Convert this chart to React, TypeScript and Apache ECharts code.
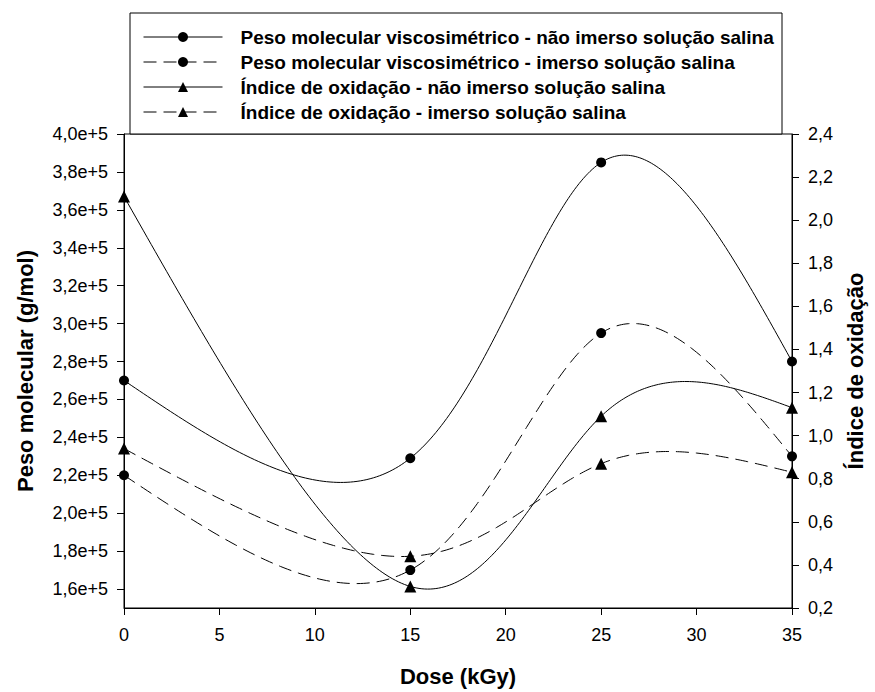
import React, { useEffect, useRef } from 'react';
import * as echarts from 'echarts';

const doses = [0, 15, 25, 35];
const pesoNaoImerso = [270000, 229000, 385000, 280000];
const pesoImerso = [220000, 170000, 295000, 230000];
const indiceNaoImerso = [2.11, 0.3, 1.09, 1.13];
const indiceImerso = [0.94, 0.44, 0.87, 0.83];
const leftTicks = [160000, 180000, 200000, 220000, 240000, 260000, 280000, 300000, 320000, 340000, 360000, 380000, 400000];
const seriesNames = [
  'Peso molecular viscosimétrico - não imerso solução salina',
  'Peso molecular viscosimétrico - imerso solução salina',
  'Índice de oxidação - não imerso solução salina',
  'Índice de oxidação - imerso solução salina',
];

const FONT = '"Liberation Sans", Arial, Helvetica, sans-serif';
const DASH = [13, 7];

const pair = (xs: number[], ys: number[]) => xs.map((x, i) => [x, ys[i]]);

// natural cubic spline second derivatives
function secondDerivs(t: number[], v: number[]): number[] {
  const n = t.length;
  const M = new Array(n).fill(0);
  if (n < 3) return M;
  const m = n - 2;
  const a: number[] = [], b: number[] = [], c: number[] = [], d: number[] = [];
  for (let i = 1; i <= m; i++) {
    const h0 = t[i] - t[i - 1];
    const h1 = t[i + 1] - t[i];
    a.push(h0);
    b.push(2 * (h0 + h1));
    c.push(h1);
    d.push(6 * ((v[i + 1] - v[i]) / h1 - (v[i] - v[i - 1]) / h0));
  }
  for (let i = 1; i < m; i++) {
    const w = a[i] / b[i - 1];
    b[i] -= w * c[i - 1];
    d[i] -= w * d[i - 1];
  }
  const sol = new Array(m).fill(0);
  sol[m - 1] = d[m - 1] / b[m - 1];
  for (let i = m - 2; i >= 0; i--) sol[i] = (d[i] - c[i] * sol[i + 1]) / b[i];
  for (let i = 0; i < m; i++) M[i + 1] = sol[i];
  return M;
}

// parametric natural cubic spline (uniform parameter) through pixel points
function splineCurve(pts: number[][], steps = 80): number[][] {
  const n = pts.length;
  const t = pts.map((_, i) => i);
  const xs = pts.map((p) => p[0]);
  const ys = pts.map((p) => p[1]);
  const Mx = secondDerivs(t, xs);
  const My = secondDerivs(t, ys);
  const ev = (v: number[], M: number[], i: number, tt: number) => {
    const h = t[i + 1] - t[i];
    const A = t[i + 1] - tt;
    const B = tt - t[i];
    return (
      (M[i] * A * A * A) / (6 * h) +
      (M[i + 1] * B * B * B) / (6 * h) +
      (v[i] / h - (M[i] * h) / 6) * A +
      (v[i + 1] / h - (M[i + 1] * h) / 6) * B
    );
  };
  const out: number[][] = [];
  for (let i = 0; i < n - 1; i++) {
    for (let k = 0; k <= steps; k++) {
      if (i > 0 && k === 0) continue;
      const tt = t[i] + ((t[i + 1] - t[i]) * k) / steps;
      out.push([ev(xs, Mx, i, tt), ev(ys, My, i, tt)]);
    }
  }
  return out;
}

export default function App() {
  const ref = useRef<HTMLDivElement>(null);
  useEffect(() => {
    document.body.style.margin = '0';
    if (!ref.current) return;
    const chart = echarts.init(ref.current, undefined, { renderer: 'svg' });

    const markers = (name: string, ys: number[], yIdx: number, symbol: string) => ({
      name,
      type: 'line',
      yAxisIndex: yIdx,
      data: pair(doses, ys),
      symbol,
      symbolSize: symbol === 'circle' ? 10 : 12,
      itemStyle: { color: '#000' },
      lineStyle: { opacity: 0 },
      z: 4,
    });
    const curve = (name: string, ys: number[], yIdx: number, dashed: boolean) => ({
      name: name + ' (curva)',
      type: 'custom',
      yAxisIndex: yIdx,
      data: pair(doses, ys),
      z: 3,
      renderItem: (params: any, api: any) => {
        if (params.dataIndex !== 0) return null;
        const pts = doses.map((x, i) => api.coord([x, ys[i]]));
        return {
          type: 'polyline',
          shape: { points: splineCurve(pts) },
          style: { stroke: '#000', lineWidth: 1, fill: 'none', lineDash: dashed ? DASH : null },
        };
      },
    });
    const legendItem = (name: string, dashed: boolean) => ({
      name,
      lineStyle: { color: '#000', width: 1, opacity: 1, type: dashed ? DASH : 'solid' },
    });

    chart.setOption({
      animation: false,
      backgroundColor: '#fff',
      textStyle: { fontFamily: FONT },
      grid: { left: 124, right: 83, top: 134, bottom: 78, show: true, borderColor: '#000', borderWidth: 1 },
      graphic: [
        {
          type: 'rect',
          shape: { x: 130, y: 13, width: 652, height: 121 },
          style: { fill: '#fff', stroke: '#000', lineWidth: 1 },
          z: 0,
        },
      ],
      legend: {
        orient: 'vertical',
        left: 143,
        top: 24.5,
        padding: 0,
        itemGap: 0,
        itemWidth: 79,
        itemHeight: 12.5,
        z: 5,
        textStyle: { fontFamily: FONT, fontSize: 19, fontWeight: 'bold', color: '#000', lineHeight: 25, padding: [0, 0, 0, 13] },
        data: [
          legendItem(seriesNames[0], false),
          legendItem(seriesNames[1], true),
          legendItem(seriesNames[2], false),
          legendItem(seriesNames[3], true),
        ],
      },
      xAxis: {
        type: 'value',
        min: 0,
        max: 35,
        interval: 5,
        name: 'Dose (kGy)',
        nameLocation: 'middle',
        nameGap: 57,
        nameTextStyle: { fontFamily: FONT, fontSize: 22, fontWeight: 'bold', color: '#000' },
        axisLine: { show: true, onZero: false, lineStyle: { color: '#000', width: 1 } },
        axisTick: { show: true, inside: false, length: 7, lineStyle: { color: '#000' } },
        axisLabel: { fontFamily: FONT, fontSize: 18, color: '#000', margin: 18 },
        splitLine: { show: false },
      },
      yAxis: [
        {
          type: 'value',
          position: 'left',
          min: 150000,
          max: 400000,
          name: 'Peso molecular (g/mol)',
          nameLocation: 'middle',
          nameRotate: 90,
          nameGap: 88,
          nameTextStyle: { fontFamily: FONT, fontSize: 22, fontWeight: 'bold', color: '#000' },
          axisLine: { show: true, lineStyle: { color: '#000', width: 1 } },
          axisTick: { show: true, length: 7, customValues: leftTicks, lineStyle: { color: '#000' } },
          axisLabel: {
            fontFamily: FONT,
            fontSize: 18,
            color: '#000',
            margin: 16,
            customValues: leftTicks,
            formatter: (v: number) => (v / 1e5).toFixed(1).replace('.', ',') + 'e+5',
          },
          splitLine: { show: false },
        },
        {
          type: 'value',
          position: 'right',
          min: 0.2,
          max: 2.4,
          interval: 0.2,
          name: 'Índice de oxidação',
          nameLocation: 'middle',
          nameRotate: 90,
          nameGap: 52,
          nameTextStyle: { fontFamily: FONT, fontSize: 22, fontWeight: 'bold', color: '#000' },
          axisLine: { show: true, lineStyle: { color: '#000', width: 1 } },
          axisTick: { show: true, length: 7, lineStyle: { color: '#000' } },
          axisLabel: {
            fontFamily: FONT,
            fontSize: 18,
            color: '#000',
            margin: 16,
            formatter: (v: number) => v.toFixed(1).replace('.', ','),
          },
          splitLine: { show: false },
        },
      ],
      series: [
        curve(seriesNames[0], pesoNaoImerso, 0, false),
        curve(seriesNames[1], pesoImerso, 0, true),
        curve(seriesNames[2], indiceNaoImerso, 1, false),
        curve(seriesNames[3], indiceImerso, 1, true),
        markers(seriesNames[0], pesoNaoImerso, 0, 'circle'),
        markers(seriesNames[1], pesoImerso, 0, 'circle'),
        markers(seriesNames[2], indiceNaoImerso, 1, 'triangle'),
        markers(seriesNames[3], indiceImerso, 1, 'triangle'),
      ],
    });
    return () => chart.dispose();
  }, []);
  return <div ref={ref} style={{ width: 875, height: 692 }} />;
}
